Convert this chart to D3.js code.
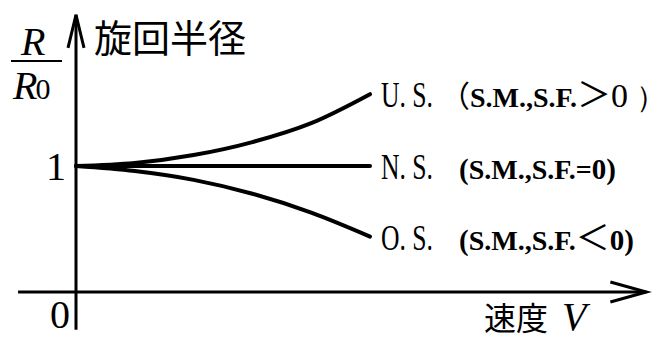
<!DOCTYPE html>
<html>
<head>
<meta charset="utf-8">
<script src="https://cdn.jsdelivr.net/npm/d3@7"></script>
<style>
  body { margin: 0; background: #fff; }
  svg { display: block; }
  .serif { font-family: "Liberation Serif", "DejaVu Serif", serif; }
  .cjk { font-family: "Noto Sans CJK JP", sans-serif; }
</style>
</head>
<body>
<div class="canvas"></div>
<script>
// speed V (relative) and R/R0
const speeds = [0, 0.2, 0.4, 0.6, 0.8, 1.0]
const understeer = [1, 1.024, 1.087, 1.19, 1.34, 1.57]
const neutral = [1, 1, 1, 1, 1, 1]
const oversteer = [1, 0.96, 0.89, 0.78, 0.63, 0.44]

const seriesNames = ['U. S.', 'N. S.', 'O. S.']
const seriesNotes = [
  ['（', 'S.M.,S.F.', '＞', '0', ' ）'],
  ['(', 'S.M.,S.F.', '=', '0', ')'],
  ['(', 'S.M.,S.F.', '＜', '0', ')']
]
const yTicks = [1]
const xTicks = [0]

const width = 669, height = 339
const x = d3.scaleLinear().domain([0, 1]).range([76, 370])
const y = d3.scaleLinear().domain([0, 1]).range([292, 166])

const svg = d3.select('.canvas')
  .append('svg')
  .attr('width', width)
  .attr('height', height)

// axes
svg.append('line')
  .attr('x1', x(-0.197)).attr('x2', x(1.94))
  .attr('y1', y(0)).attr('y2', y(0))
  .attr('stroke', '#000').attr('stroke-width', 3)
svg.append('line')
  .attr('x1', x(0)).attr('x2', x(0))
  .attr('y1', y(-0.3)).attr('y2', y(2.2))
  .attr('stroke', '#000').attr('stroke-width', 3)

// arrow heads
const xEnd = x(1.94), yTop = y(2.2)
svg.append('path')
  .attr('d', `M${xEnd - 36},${y(0) - 10} L${xEnd},${y(0)} L${xEnd - 36},${y(0) + 10}`)
  .attr('fill', 'none').attr('stroke', '#000').attr('stroke-width', 3)
svg.append('path')
  .attr('d', `M${x(0) - 8},${yTop + 33} L${x(0)},${yTop} L${x(0) + 8},${yTop + 33}`)
  .attr('fill', 'none').attr('stroke', '#000').attr('stroke-width', 3)

// curves
const line = d3.line()
  .x((d, i) => x(speeds[i]))
  .y(d => y(d))
  .curve(d3.curveMonotoneX)

const allSeries = [understeer, neutral, oversteer]

svg.selectAll('path.curve')
  .data(allSeries)
  .enter().append('path')
  .attr('class', 'curve')
  .attr('d', line)
  .attr('fill', 'none')
  .attr('stroke', '#000')
  .attr('stroke-width', 4)
  .attr('stroke-linecap', 'round')

// series labels: name, then the stability note
const labelY = d => y(d[d.length - 1]) + 13

svg.selectAll('text.series')
  .data(allSeries)
  .enter().append('text')
  .attr('class', 'series serif')
  .attr('x', x(1) + 11)
  .attr('y', labelY)
  .attr('font-size', 36)
  .attr('textLength', 52)
  .attr('lengthAdjust', 'spacingAndGlyphs')
  .text((d, i) => seriesNames[i])

const notes = svg.selectAll('text.note')
  .data(allSeries)
  .enter().append('text')
  .attr('class', 'note serif')
  .attr('x', (d, i) => i === 0 ? 440 : 459)
  .attr('y', labelY)
notes.each(function (d, i) {
  const t = d3.select(this)
  const note = seriesNotes[i]
  const first = i === 0
  t.append('tspan').text(note[0])
    .attr('font-size', first ? 30 : 29)
    .attr('font-weight', first ? 'normal' : 'bold')
    .attr('class', first ? 'cjk' : 'serif')
  t.append('tspan').text(note[1])
    .attr('font-size', 28).attr('font-weight', 'bold')
    .attr('class', 'serif')
  t.append('tspan').text(note[2])
    .attr('font-size', i === 1 ? 28 : 34)
    .attr('font-weight', i === 1 ? 'bold' : 'normal')
    .attr('class', i === 1 ? 'serif' : 'cjk')
  t.append('tspan').text(note[3])
    .attr('font-size', first ? 34 : 29)
    .attr('font-weight', first ? 'normal' : 'bold')
    .attr('class', 'serif')
  t.append('tspan').text(note[4])
    .attr('font-size', first ? 30 : 29)
    .attr('font-weight', first ? 'normal' : 'bold')
    .attr('class', 'serif')
})

// tick labels
svg.selectAll('text.ytick')
  .data(yTicks)
  .enter().append('text')
  .attr('class', 'ytick serif')
  .attr('x', x(0) - 10)
  .attr('y', d => y(d) + 14)
  .attr('text-anchor', 'end')
  .attr('font-size', 40)
  .text(d => d)
svg.selectAll('text.xtick')
  .data(xTicks)
  .enter().append('text')
  .attr('class', 'xtick serif')
  .attr('x', x(0) - 6)
  .attr('y', y(0) + 36)
  .attr('text-anchor', 'end')
  .attr('font-size', 40)
  .text(d => d)

// axis titles
svg.append('text')
  .attr('class', 'cjk')
  .attr('x', 94).attr('y', 52)
  .attr('font-size', 38)
  .text('旋回半径')

const frac = svg.append('g')
frac.append('text')
  .attr('class', 'serif')
  .attr('x', 21).attr('y', 55)
  .attr('font-size', 40).attr('font-style', 'italic')
  .text('R')
frac.append('line')
  .attr('x1', 11).attr('x2', 62).attr('y1', 61).attr('y2', 61)
  .attr('stroke', '#000').attr('stroke-width', 2)
const den = frac.append('text')
  .attr('class', 'serif')
  .attr('x', 13).attr('y', 99)
den.append('tspan').text('R')
  .attr('font-size', 40).attr('font-style', 'italic')
den.append('tspan').text('0')
  .attr('font-size', 30).attr('dx', -2)

const vTitle = svg.append('text')
  .attr('x', 484).attr('y', 330)
vTitle.append('tspan').text('速度')
  .attr('class', 'cjk').attr('font-size', 32)
vTitle.append('tspan').text('V')
  .attr('class', 'serif').attr('font-size', 40)
  .attr('font-style', 'italic').attr('dx', 14)
</script>
</body>
</html>
